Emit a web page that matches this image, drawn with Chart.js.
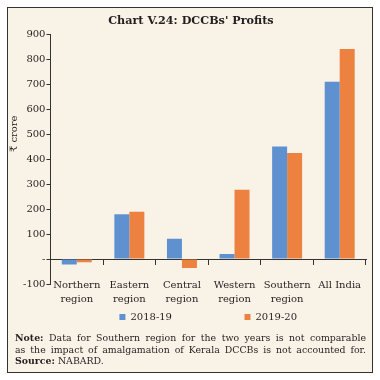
<!DOCTYPE html>
<html>
<head>
<meta charset="utf-8">
<script src="https://cdn.jsdelivr.net/npm/chart.js@4"></script>
<style>
html,body{margin:0;padding:0;width:380px;height:380px;overflow:hidden;background:#fff;}
#frame{position:absolute;left:7px;top:7px;width:364px;height:364px;border:1.5px solid #333;background:#f9f2e6;}
#c{position:absolute;left:0;top:0;}
#note{position:absolute;left:15px;top:332px;width:351px;font-family:"DejaVu Serif",serif;font-size:9.4px;line-height:11.7px;color:#231f20;}
#note div{text-align:justify;text-align-last:justify;white-space:nowrap;}
#note div.last{text-align-last:left;}
</style>
</head>
<body>
<div id="frame"></div>
<canvas id="c" width="380" height="380"></canvas>
<div id="note">
<div><b>Note:</b> Data for Southern region for the two years is not comparable</div>
<div>as the impact of amalgamation of Kerala DCCBs is not accounted for.</div>
<div class="last"><b>Source:</b> NABARD.</div>
</div>
<script>
const titleText = "Chart V.24: DCCBs' Profits";
const yAxisTitle = "₹ crore";
const categories = [["Northern","region"],["Eastern","region"],["Central","region"],["Western","region"],["Southern","region"],"All India"];
const seriesNames = ["2018-19", "2019-20"];
const values1819 = [-22, 179, 81, 20, 451, 710];
const values1920 = [-13, 190, -36, 278, 425, 842];
const yMin = -100, yMax = 900, yStep = 100;

const serif = "'DejaVu Serif', serif";
const dark = '#231f20';
const pad = n => ' '.repeat(n);

new Chart(document.getElementById('c'), {
  type: 'bar',
  data: {
    labels: categories,
    datasets: [
      { label: seriesNames[0] + pad(14), data: values1819, backgroundColor: '#5f91d0' },
      { label: seriesNames[1], data: values1920, backgroundColor: '#ec8140' }
    ]
  },
  options: {
    responsive: false,
    animation: false,
    layout: { padding: { left: 8, right: 14, top: 0, bottom: 48 } },
    datasets: { bar: { categoryPercentage: 0.57, barPercentage: 1.0 } },
    plugins: {
      title: {
        display: true, text: pad(2) + titleText, color: dark,
        font: { family: serif, size: 11.2, weight: 'bold', lineHeight: 1.2 },
        padding: { top: 14, bottom: 7 }
      },
      legend: {
        display: true, position: 'bottom', fullSize: false,
        labels: { boxWidth: 6, boxHeight: 6, padding: 28, color: dark,
          font: { family: serif, size: 10 } }
      },
      tooltip: { enabled: false }
    },
    scales: {
      x: {
        type: 'category', position: { y: yMin },
        grid: { display: false, drawTicks: false },
        border: { display: false },
        ticks: { color: dark, font: { family: serif, size: 10, lineHeight: 1.4 },
          padding: -6, maxRotation: 0, autoSkip: false }
      },
      x2: {
        type: 'category', position: { y: 0 }, offset: true,
        grid: { offset: true, drawOnChartArea: false, drawTicks: true, tickLength: 5, color: '#333' },
        border: { display: true, color: '#333', width: 1 },
        ticks: { display: false }
      },
      y: {
        min: yMin, max: yMax,
        grid: { drawOnChartArea: false, drawTicks: true, tickLength: 4, color: '#333' },
        border: { display: true, color: '#333', width: 1 },
        ticks: { stepSize: yStep, color: dark, padding: 1,
          font: { family: serif, size: 10 },
          callback: v => v === 0 ? '-' : String(v) },
        title: { display: true, text: pad(16) + yAxisTitle, color: dark,
          font: { family: serif, size: 10 }, padding: { top: 0, bottom: 2 } }
      }
    }
  }
});
</script>
</body>
</html>
